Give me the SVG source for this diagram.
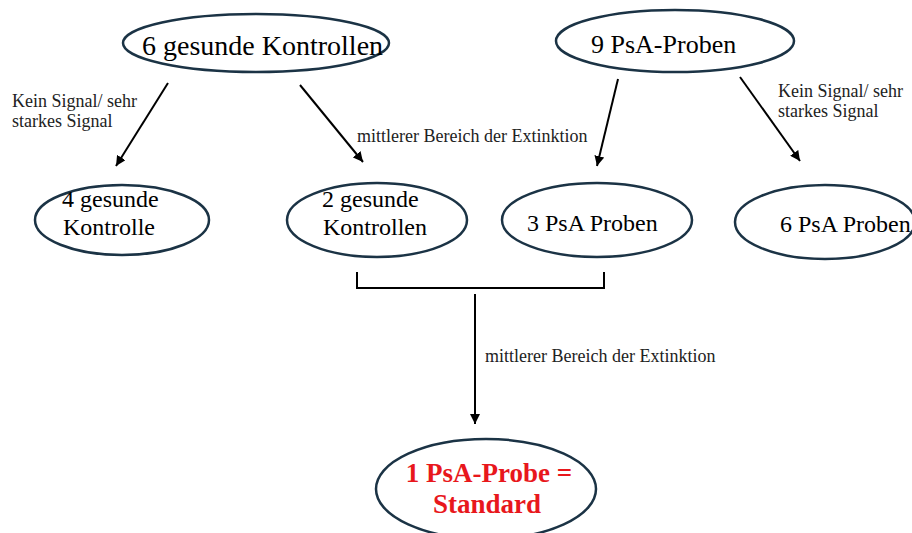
<svg xmlns="http://www.w3.org/2000/svg" width="912" height="533" viewBox="0 0 912 533">
<style>
.node ellipse{fill:#ffffff;stroke:#1b3345;stroke-width:2.5}
.t{font-family:"Liberation Serif","Times New Roman",serif;fill:#000}
.lbl{font-family:"Liberation Serif","Times New Roman",serif;font-size:18px;fill:#222}
.c line,.c path{stroke:#000;stroke-width:2;fill:none}
</style>
<defs>
<marker id="ah" viewBox="0 0 10 10" refX="10" refY="5" markerWidth="5" markerHeight="5" markerUnits="strokeWidth" orient="auto">
<path d="M0,0 L10,5 L0,10 z" fill="#000"/>
</marker>
</defs>
<rect width="912" height="533" fill="#fff"/>
<g class="c" id="connectors">
<line x1="168" y1="83" x2="116" y2="166" marker-end="url(#ah)"/>
<line x1="300" y1="85" x2="363" y2="162" marker-end="url(#ah)"/>
<line x1="618" y1="79" x2="597" y2="166" marker-end="url(#ah)"/>
<line x1="740" y1="77" x2="800" y2="161" marker-end="url(#ah)"/>
<path d="M357,272 L357,288 L604,288 L604,272"/>
<line x1="475" y1="294" x2="475" y2="424" marker-end="url(#ah)"/>
<text class="lbl" x="12" y="107">Kein Signal/ sehr</text>
<text class="lbl" x="12" y="127">starkes Signal</text>
<text class="lbl" x="357" y="142">mittlerer Bereich der Extinktion</text>
<text class="lbl" x="778" y="97">Kein Signal/ sehr</text>
<text class="lbl" x="778" y="117">starkes Signal</text>
<text class="lbl" x="485" y="362">mittlerer Bereich der Extinktion</text>
</g>
<g class="node" id="n1">
<ellipse cx="256" cy="43" rx="133" ry="29"/>
<text class="t" x="142" y="55" font-size="28">6 gesunde Kontrollen</text>
</g>
<g class="node" id="n2">
<ellipse cx="675" cy="41" rx="119" ry="31"/>
<text class="t" x="591" y="53" font-size="26">9 PsA-Proben</text>
</g>
<g class="node" id="n3">
<ellipse cx="122" cy="220" rx="87" ry="35"/>
<text class="t" x="62" y="207" font-size="24">4 gesunde</text>
<text class="t" x="63" y="235" font-size="24">Kontrolle</text>
</g>
<g class="node" id="n4">
<ellipse cx="377" cy="220" rx="90" ry="37"/>
<text class="t" x="322" y="207" font-size="24">2 gesunde</text>
<text class="t" x="323" y="235" font-size="24">Kontrollen</text>
</g>
<g class="node" id="n5">
<ellipse cx="597" cy="220" rx="95" ry="37"/>
<text class="t" x="527" y="231" font-size="24">3 PsA Proben</text>
</g>
<g class="node" id="n6">
<ellipse cx="825" cy="222" rx="90" ry="37"/>
<text class="t" x="780" y="232" font-size="24">6 PsA Proben</text>
</g>
<g class="node" id="n7">
<ellipse cx="486" cy="489" rx="110" ry="50"/>
<text class="t" x="489" y="482" font-size="27" font-weight="bold" fill="#e8171c" text-anchor="middle" style="fill:#e8171c">1 PsA-Probe =</text>
<text class="t" x="487" y="513" font-size="27" font-weight="bold" text-anchor="middle" style="fill:#e8171c">Standard</text>
</g>
</svg>
